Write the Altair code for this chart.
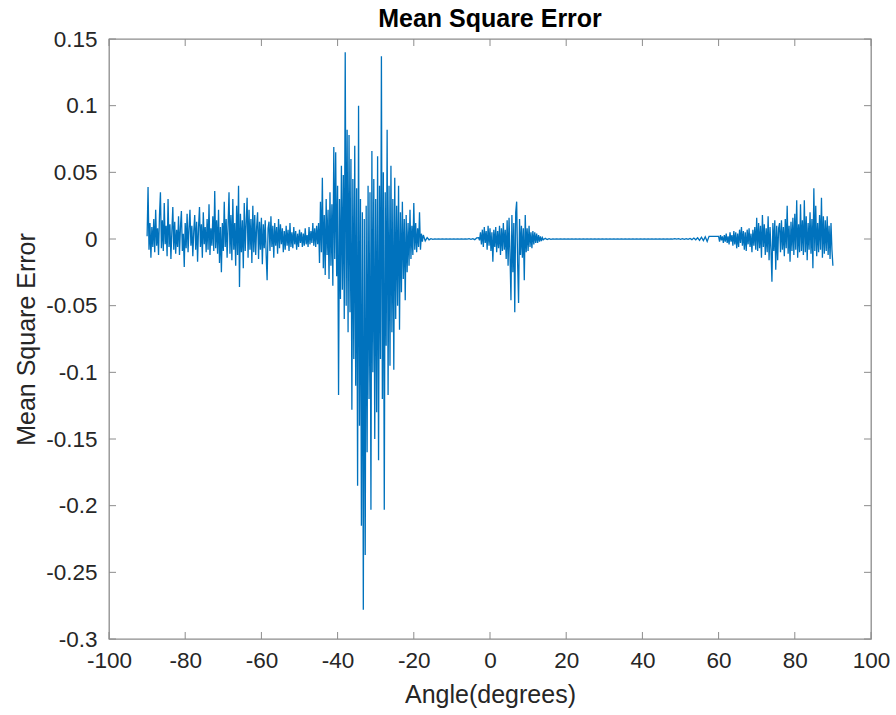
import altair as alt
import pandas as pd

# ---- data (values in thousandths of the MSE unit) ----
# segment A: -90 .. -45.25, step 0.25
seg_a = [
    2, 39, -8, 12, -14, 9, -6, 15,
    -10, 22, -5, 8, -12, 18, 35, -7,
    14, -9, 27, -4, 10, -13, 30, -6,
    11, -15, 6, 24, -8, 13, -11, 7,
    -6, 17, -12, 9, 21, -9, 4, -21,
    12, -7, 19, -10, 8, 22, -5, 10,
    -13, 6, 18, -8, 13, -17, 9, 24,
    -6, 11, -14, 20, -4, 9, -10, 15,
    -8, 26, -12, 8, -5, 17, -9, 36,
    -7, 14, -11, 22, -18, 9, -25, 12,
    -9, 28, -6, 15, -14, 10, 35, -11,
    18, -16, 30, -8, 12, -20, 25, -12,
    40, -36, 19, -10, 14, -22, 27, -9,
    12, 31, -14, 22, -8, 15, -18, 25,
    -10, 18, -12, 9, 20, -15, 13, -8,
    16, -19, 11, -7, 14, -12, -31, 8,
    13, -9, 17, -6, 10, -14, 12, -5,
    9, -11, 15, -7, 11, -4, 8, -10,
    6, -8, 10, -5, 7, -9, 12, -6,
    5, -7, 9, -4, 6, -8, 4, -6,
    7, -3, 5, -6, 4, -5, 8, -4,
    3, -6, 9, -4, 6, -3, 12, -5,
    8, -6, 10, -4,
]
# segment B: -45 .. -17.75, step 0.25
seg_b = [
    12, -18, 28, -10, 46, -22, 18, -27, 30, -12,
    22, -30, 35, -20, 26, -35, 69, -15, 65, -28,
    40, -117, 30, -45, 55, -38, 48, -60, 140, -50,
    82, -70, 78, -55, 60, -128, 45, -90, 70, -110,
    38, -185, 100, -140, 30, -215, 20, -278, 15, -237,
    25, -160, 40, -120, 35, -203, 66, -100, 45, -150,
    30, -130, 62, -166, 40, -90, 137, -120, 50, -203,
    35, -80, 82, -117, 40, -95, 55, -70, 30, -98,
    46, -60, 25, -50, 40, -68, 20, -40, 28, -30,
    15, -46, 18, -25, 12, -20, 22, -15, 10, -12,
    27, -8, 12, -10, 8, -6, 20, -8, 4, -2,
]
# segment C: -17.5 .. -3.5, step 0.5
seg_c = [
    3, -1.5, 1, -0.6, 0.3, -0.2, 0.1, -0.1, 0.1, -0.1,
    0.1, -0.1, 0.1, -0.1, 0.1, -0.1, 0.1, -0.1, 0.1, -0.1,
    0.1, -0.1, 0.1, -0.1, 0.2, -0.2, 0.3, -0.5, 0.8,
]
# segment D: -3 .. 14, step 0.25
seg_d = [
    1, -1, 5, -4, 7, -6, 9, -3, 6, -8,
    10, -5, 8, -9, 5, -17, 7, -6, 9, -10,
    6, -7, 10, -12, 8, -9, 12, -8, 7, -15,
    14, -20, 16, -12, -46, 18, -25, 12, -55, 20,
    28, -18, -48, 15, -12, 10, -14, 8, -31, 18,
    -10, 8, -9, 10, -6, 5, -7, 6, -4, 5,
    -3, 4, -3, 3, -2, 2, -1.5, 1, -0.5,
]
# segment E: 14.5 .. 59.5, step 0.5
seg_e = [
    0.5, -0.4, 0.3, -0.2, 0.1, -0.1,
    0.1, -0.1, 0.1, -0.1, 0.1, -0.1, 0.1, -0.1, 0.1, -0.1,
    0.1, -0.1, 0.1, -0.1, 0.1, -0.1, 0.1, -0.1, 0.1, -0.1,
    0.1, -0.1, 0.1, -0.1, 0.1, -0.1, 0.1, -0.1, 0.1, -0.1,
    0.1, -0.1, 0.1, -0.1, 0.1, -0.1, 0.1, -0.1, 0.1, -0.1,
    0.1, -0.1, 0.1, -0.1, 0.1, -0.1, 0.1, -0.1, 0.1, -0.1,
    0.1, -0.1, 0.1, -0.1, 0.1, -0.1, 0.1, -0.1, 0.1, -0.1,
    0.1, -0.1, 0.2, -0.1, 0.2, -0.2, 0.2, -0.2, 0.3, -0.3,
    0.4, -0.5, 0.7, -0.6, 0.9, -1, 1.3, -1.2, 1.6, -1.8,
    2,
]
# segment F: 60 .. 90, step 0.25
seg_f = [
    2, -2, 3, -1, 2, -3, 3, -2,
    4, -3, 2, -4, 5, -2, 3, -5,
    6, -4, 5, -7, 4, -6, 7, -3,
    9, -5, 6, -8, 5, -9, 7, -4,
    8, -6, 4, -10, 7, -5, 9, -8,
    16, -9, 12, -7, 10, -14, 18, -6,
    11, -12, 8, -10, 17, -16, 9, -8,
    -32, 12, -9, 14, -23, 10, -16, 8,
    12, -10, 14, -8, 9, -13, 15, -7,
    25, -11, 10, -17, 13, -9, 16, -12,
    19, -8, 29, -14, 11, -10, 26, -9,
    14, -12, 29, -10, 17, -16, 12, -8,
    20, -11, 15, -22, 38, -9, 25, -13,
    12, -10, 18, -8, 31, -14, 17, -11,
    14, -9, 17, -12, 10, -15, 12, -8,
    -20,
]

segments = [
    (-90.0, 0.25, seg_a),
    (-45.0, 0.25, seg_b),
    (-17.5, 0.5, seg_c),
    (-3.0, 0.25, seg_d),
    (14.5, 0.5, seg_e),
    (60.0, 0.25, seg_f),
]

x_ticks = [-100, -80, -60, -40, -20, 0, 20, 40, 60, 80, 100]
y_ticks = [-0.3, -0.25, -0.2, -0.15, -0.1, -0.05, 0, 0.05, 0.1, 0.15]

angles, mse = [], []
for start, step, vals in segments:
    for i, v in enumerate(vals):
        angles.append(round(start + step * i, 4))
        mse.append(v / 1000.0)

df = pd.DataFrame({"angle": angles, "mse": mse, "order": list(range(len(angles)))})
xt = pd.DataFrame({"t": x_ticks})
yt = pd.DataFrame({"t": y_ticks})

FONT = "Liberation Sans"
TXT = "#262626"
FRAME = "#8c8c8c"
W, H = 762, 600
TL = 7

xs = alt.Scale(domain=[-100, 100], nice=False, zero=False)
ys = alt.Scale(domain=[-0.3, 0.15], nice=False, zero=False)
lab = "replace(format(datum.value, '~g'), '\u2212', '-')"

x_axis = alt.Axis(values=x_ticks, labelExpr=lab, labelFlush=False,
                  labelOverlap=False, labelPadding=10,
                  title="Angle(degrees)", titlePadding=11)
y_axis = alt.Axis(values=y_ticks, labelExpr=lab, labelFlush=False,
                  labelOverlap=False, labelPadding=12,
                  title="Mean Square Error", titlePadding=6)

line = alt.Chart(df).mark_line(color="#0072BD", strokeWidth=1.3).encode(
    x=alt.X("angle:Q", scale=xs, axis=x_axis),
    y=alt.Y("mse:Q", scale=ys, axis=y_axis),
    order="order:Q",
)

tick_b = alt.Chart(xt).mark_rule(color=FRAME, strokeWidth=1).encode(
    x=alt.X("t:Q", scale=xs, axis=x_axis), y=alt.value(H), y2=alt.value(H - TL))
tick_t = alt.Chart(xt).mark_rule(color=FRAME, strokeWidth=1).encode(
    x=alt.X("t:Q", scale=xs, axis=x_axis), y=alt.value(0), y2=alt.value(TL))
tick_l = alt.Chart(yt).mark_rule(color=FRAME, strokeWidth=1).encode(
    y=alt.Y("t:Q", scale=ys, axis=y_axis), x=alt.value(0), x2=alt.value(TL))
tick_r = alt.Chart(yt).mark_rule(color=FRAME, strokeWidth=1).encode(
    y=alt.Y("t:Q", scale=ys, axis=y_axis), x=alt.value(W), x2=alt.value(W - TL))

chart = alt.layer(line, tick_b, tick_t, tick_l, tick_r).properties(
    width=W, height=H,
    autosize=alt.AutoSizeParams(type="none"),
    padding={"left": 109, "top": 39, "right": 25, "bottom": 76},
    title=alt.Title("Mean Square Error", font=FONT, fontSize=25, fontWeight="bold",
                    color="#000000", offset=-4, anchor="middle"),
    background="white",
).configure_view(
    stroke=FRAME, strokeWidth=1.3
).configure_axis(
    grid=False, domain=False, ticks=False,
    labelFont=FONT, labelFontSize=22.5, labelColor=TXT,
    titleFont=FONT, titleFontSize=25, titleFontWeight="normal", titleColor=TXT,
)

chart.save("out.html", embed_options={"renderer": "svg", "actions": False})
